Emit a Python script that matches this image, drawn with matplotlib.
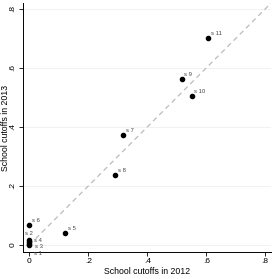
import matplotlib
matplotlib.use("Agg")
import matplotlib.pyplot as plt
import numpy as np

# school cutoffs, 2012 vs 2013
schools = ['s 1', 's 2', 's 3', 's 4', 's 5', 's 6', 's 7', 's 8', 's 9', 's 10', 's 11']
cut2012 = [0.0, 0.0, 0.0, 0.0, 0.121, 0.0, 0.318, 0.29, 0.516, 0.55, 0.605]
cut2013 = [0.0, 0.016, 0.004, 0.01, 0.041, 0.068, 0.372, 0.238, 0.562, 0.504, 0.703]
# label offsets (points)
offs = {'s 1': (3, -7), 's 2': (-3, 4), 's 3': (4, -3), 's 4': (3, 0)}

ticks = [0, 0.2, 0.4, 0.6, 0.8]
ticklabels = ['0', '.2', '.4', '.6', '.8']

plt.rcParams['font.family'] = 'Liberation Sans'
fig = plt.figure(figsize=(2.73, 2.79), dpi=100)
ax = fig.add_axes([0.084, 0.097, 0.908, 0.892])

for t in ticks:
    ax.axhline(t, color='#eef2f2', lw=0.7, zorder=0)
ax.plot([0, 0.82], [0, 0.82], color='#bbbbbb', lw=0.9, dashes=(4, 3), zorder=1)
ax.scatter(cut2012, cut2013, s=9, color='black', zorder=3)
for name, x, y in zip(schools, cut2012, cut2013):
    dx, dy = offs.get(name, (2, 2))
    ax.annotate(name, (x, y), xytext=(dx, dy), textcoords='offset points',
                fontsize=4.2, color='#444444')

ax.set_xlim(-0.022, 0.819)
ax.set_ylim(-0.024, 0.82)
ax.set_xticks(ticks)
ax.set_xticklabels(ticklabels, fontsize=6)
ax.set_yticks(ticks)
ax.set_yticklabels(ticklabels, fontsize=6, rotation=90, va='center')
ax.tick_params(length=3, width=0.6, pad=1.5)
ax.set_xlabel('School cutoffs in 2012', fontsize=6.3, labelpad=1)
ax.set_ylabel('School cutoffs in 2013', fontsize=6.3)
ax.yaxis.set_label_coords(-0.054, 0.5)
for s in ['top', 'right']:
    ax.spines[s].set_visible(False)
for s in ['left', 'bottom']:
    ax.spines[s].set_linewidth(0.7)

fig.savefig('out.png', dpi=100)
